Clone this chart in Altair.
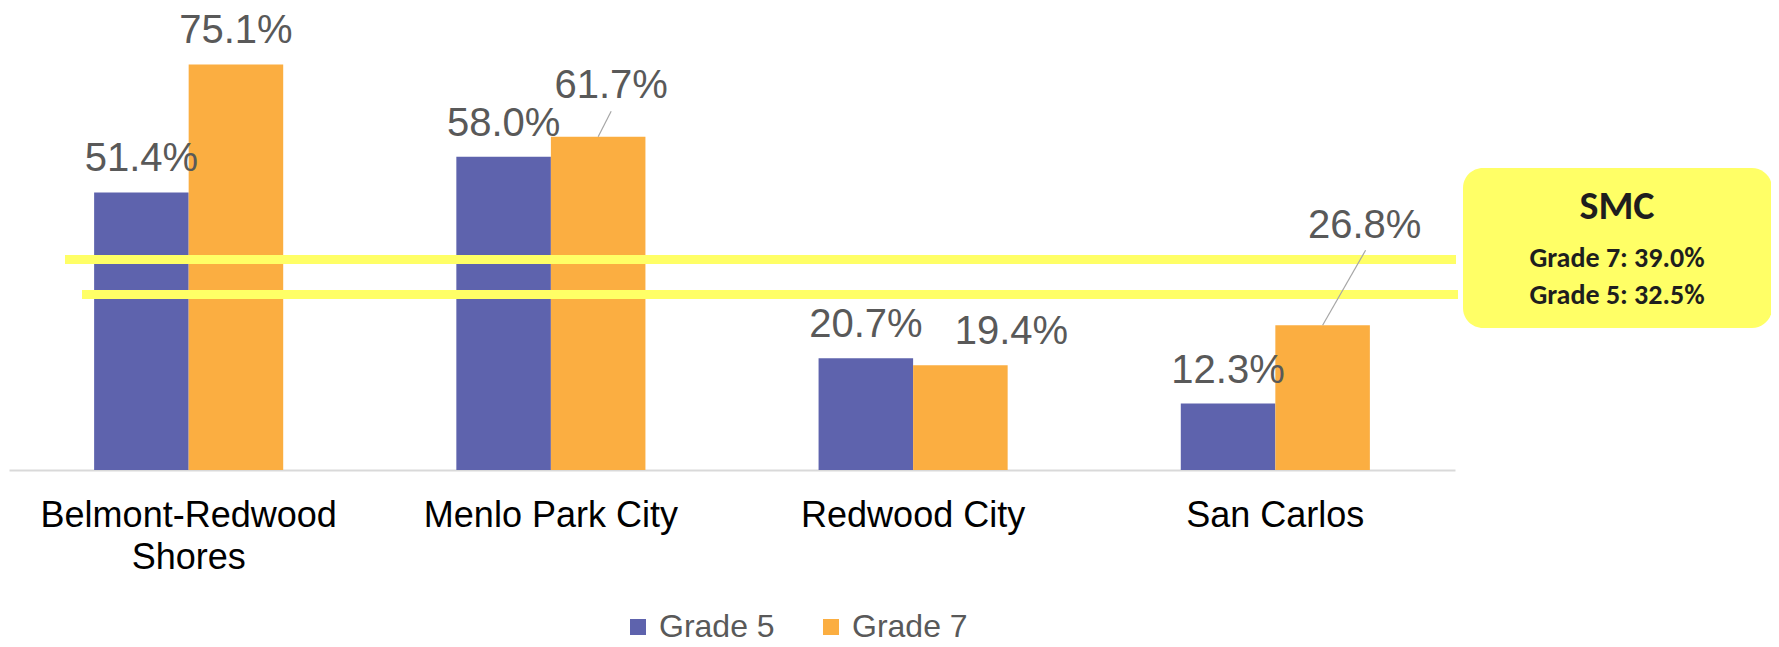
import altair as alt
import pandas as pd

categories = ["Belmont-Redwood Shores", "Menlo Park City", "Redwood City", "San Carlos"]
series = ["Grade 5", "Grade 7"]
grade5 = [51.4, 58.0, 20.7, 12.3]
grade7 = [75.1, 61.7, 19.4, 26.8]
colors = ["#5E63AD", "#FBAE41"]

smc_series = ["Grade 7", "Grade 5"]
smc_values = [39.0, 32.5]
smc_title = "SMC"
smc_rows = ["Grade 7: 39.0%", "Grade 5: 32.5%"]

rows = []
for c, v5, v7 in zip(categories, grade5, grade7):
    rows.append({"category": c, "grade": "Grade 5", "value": v5})
    rows.append({"category": c, "grade": "Grade 7", "value": v7})
df = pd.DataFrame(rows)
df["key"] = df["category"] + "|" + df["grade"]
smc_df = pd.DataFrame({"grade": smc_series, "value": smc_values})
box_df = pd.DataFrame({"t": [smc_title] + smc_rows})

FONT = "Liberation Sans"
LABEL_GRAY = "#595959"

xscale = alt.Scale(domain=categories, paddingInner=0.478, paddingOuter=0.235)
x_enc = alt.X(
    "category:N", sort=categories, scale=xscale, title=None,
    axis=alt.Axis(
        labelExpr="datum.label == 'Belmont-Redwood Shores' ? ['Belmont-Redwood', 'Shores'] : datum.label",
        labelFont=FONT, labelFontSize=36, labelColor="#000000", labelAngle=0,
        labelPadding=28, labelLineHeight=42, ticks=False, domainColor="#D9D9D9",
        domainWidth=2, grid=False, labelLimit=0,
    ),
)
xoff_enc = alt.XOffset("grade:N", sort=series)
y_enc = alt.Y("value:Q", scale=alt.Scale(domain=[0, 80], nice=False), axis=None)

base = alt.Chart(df).encode(x=x_enc, xOffset=xoff_enc, y=y_enc)

bars = base.mark_bar().encode(
    color=alt.Color(
        "grade:N", sort=series, scale=alt.Scale(domain=series, range=colors),
        legend=alt.Legend(
            title=None, orient="none", legendX=613, legendY=573, direction="horizontal",
            symbolType="square", symbolSize=256, symbolStrokeWidth=0,
            labelFont=FONT, labelFontSize=32, labelColor=LABEL_GRAY,
            labelOffset=5, columnPadding=40,
        ),
    )
)

# SMC reference lines (y through the same scale, axis hidden like the other layers)
line7 = alt.Chart(smc_df).transform_filter("datum.grade == 'Grade 7'").mark_rule(
    color="#FFFF66", strokeWidth=9
).encode(y=y_enc, x=alt.value(56), x2=alt.value(1447))
line5 = alt.Chart(smc_df).transform_filter("datum.grade == 'Grade 5'").mark_rule(
    color="#FFFF66", strokeWidth=9
).encode(y=y_enc, x=alt.value(73), x2=alt.value(1449))

lab = base.transform_calculate(label="format(datum.value, '.1f') + '%'")


def text_layer(keys, dx, dy):
    expr = " || ".join(f"datum.key == '{k}'" for k in keys)
    return lab.transform_filter(expr).mark_text(
        font=FONT, fontSize=40, color=LABEL_GRAY, baseline="alphabetic",
        align="center", dx=dx, dy=dy).encode(text="label:N")


special = ["Menlo Park City|Grade 7", "San Carlos|Grade 7", "Redwood City|Grade 7"]
normal_keys = [k for k in df["key"] if k not in special]
t_normal = text_layer(normal_keys, 0, -21)
t_menlo = text_layer(["Menlo Park City|Grade 7"], 13, -39)
t_redwood = text_layer(["Redwood City|Grade 7"], 51, -21)
t_sc = text_layer(["San Carlos|Grade 7"], 42, -87)


def leader(key, path, size):
    return base.transform_filter(f"datum.key == '{key}'").mark_point(
        shape=path, size=size, filled=False, stroke="#A6A6A6", strokeWidth=1.2,
        opacity=1,
    )


lead_m = leader("Menlo Park City|Grade 7", "M0,0L0.51,-1", 2601)
lead_s = leader("San Carlos|Grade 7", "M0,0L0.573,-1", 22500)

box = alt.Chart(box_df).transform_filter(f"datum.t == '{smc_title}'").mark_rect(
    fill="#FFFF66", cornerRadius=20
).encode(x=alt.value(1454), x2=alt.value(1763), y=alt.value(130), y2=alt.value(290))

BOXFONT = "Carlito, Open Sans"


def box_text(txt, size, ypos):
    return alt.Chart(box_df).transform_filter(f"datum.t == '{txt}'").mark_text(
        font=BOXFONT, fontSize=size, fontWeight="bold", color="#1E1E1E",
        align="center", baseline="alphabetic"
    ).encode(text="t:N", x=alt.value(1608), y=alt.value(ypos))


box_title = box_text(smc_title, 40, 181)
box_r1 = box_text(smc_rows[0], 28, 229)
box_r2 = box_text(smc_rows[1], 28, 266)

chart = alt.layer(
    bars, line7, line5, lead_m, lead_s, t_normal, t_menlo, t_redwood, t_sc,
    box, box_title, box_r1, box_r2
).properties(
    width=1446, height=432, autosize="none",
    padding={"left": 1, "top": 30, "right": 316, "bottom": 169},
).configure_view(stroke=None)

chart.save("out.html", embed_options={"renderer": "svg", "actions": False})
